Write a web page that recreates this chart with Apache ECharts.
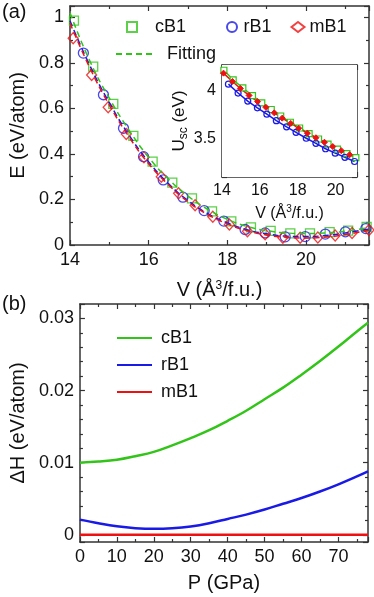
<!DOCTYPE html>
<html>
<head>
<meta charset="utf-8">
<script src="https://cdn.jsdelivr.net/npm/echarts@6/dist/echarts.min.js"></script>
<style>
html, body { margin: 0; padding: 0; background: #fff; }
#main { width: 374px; height: 597px; }
</style>
</head>
<body>
<div id="main"></div>
<script>
// panel (a): energy vs volume
var vC = [14.10, 14.59, 15.10, 15.61, 16.10, 16.60, 17.10, 17.61, 18.10, 18.60, 19.10, 19.60, 20.10, 20.60, 21.07, 21.54];
var eC = [0.986, 0.784, 0.620, 0.479, 0.366, 0.274, 0.205, 0.148, 0.104, 0.077, 0.062, 0.051, 0.051, 0.057, 0.063, 0.079];
var vR = [14.34, 14.85, 15.36, 15.87, 16.37, 16.87, 17.41, 17.91, 18.45, 18.96, 19.47, 19.98, 20.49, 21.00, 21.52];
var eR = [0.843, 0.660, 0.513, 0.388, 0.286, 0.210, 0.151, 0.105, 0.068, 0.053, 0.036, 0.037, 0.048, 0.058, 0.072];
var vM = [14.08, 14.55, 14.97, 15.43, 15.88, 16.32, 16.76, 17.18, 17.63, 18.05, 18.51, 18.96, 19.41, 19.85, 20.30, 20.74, 21.17, 21.60];
var eM = [0.908, 0.747, 0.605, 0.488, 0.385, 0.300, 0.227, 0.175, 0.124, 0.090, 0.060, 0.047, 0.032, 0.032, 0.033, 0.042, 0.053, 0.066];

// fitted curves
var fitV = [14.0, 14.5, 15.0, 15.5, 16.0, 16.5, 17.0, 17.5, 18.0, 18.5, 19.0, 19.5, 20.0, 20.5, 21.0, 21.6];
var fitC = [1.02, 0.81, 0.645, 0.505, 0.385, 0.29, 0.215, 0.157, 0.113, 0.082, 0.063, 0.053, 0.050, 0.053, 0.061, 0.077];
var fitR = [0.985, 0.79, 0.625, 0.483, 0.365, 0.27, 0.195, 0.138, 0.097, 0.067, 0.049, 0.039, 0.037, 0.042, 0.053, 0.070];
var fitM = [0.975, 0.78, 0.615, 0.475, 0.357, 0.265, 0.19, 0.134, 0.093, 0.063, 0.044, 0.034, 0.031, 0.035, 0.046, 0.065];

// inset: Usc vs volume
var uC = [4.215, 4.115, 4.030, 3.950, 3.875, 3.805, 3.737, 3.672, 3.612, 3.553, 3.497, 3.443, 3.392, 3.345, 3.303];
var uR = [4.070, 3.977, 3.893, 3.823, 3.756, 3.688, 3.624, 3.567, 3.505, 3.452, 3.395, 3.349, 3.306, 3.262];
var uM = [4.185, 4.098, 4.025, 3.952, 3.888, 3.828, 3.770, 3.715, 3.660, 3.610, 3.558, 3.510, 3.463, 3.418, 3.375, 3.333, 3.292];

// panel (b): enthalpy difference vs pressure
var pGPa = [0, 5, 10, 15, 20, 25, 30, 35, 40, 45, 50, 55, 60, 65, 70, 75, 78];
var hC = [0.0100, 0.01015, 0.0104, 0.0109, 0.0115, 0.0124, 0.0134, 0.0145, 0.0158, 0.0172, 0.0188, 0.0204, 0.0222, 0.0241, 0.0261, 0.0282, 0.0294];
var hR = [0.0021, 0.0016, 0.00118, 0.00092, 0.00082, 0.0009, 0.00115, 0.0016, 0.0022, 0.0028, 0.0035, 0.0043, 0.0051, 0.0060, 0.0070, 0.0081, 0.0088];
var hM = [0, 0, 0, 0, 0, 0, 0, 0, 0, 0, 0, 0, 0, 0, 0, 0, 0];

var GREEN = '#33c41a', BLUE = '#1a1ae6', RED = '#ee1111';
var FONT = '"Liberation Sans", Arial, sans-serif';
var AX = '#333';

function zip(xs, ys) {
    var out = [];
    for (var i = 0; i < ys.length; i++) out.push([xs[i], ys[i]]);
    return out;
}

function axis(o) {
    var a = {
        type: 'value', gridIndex: o.grid, position: o.pos,
        min: o.min, max: o.max,
        axisLine: { show: true, onZero: false, lineStyle: { color: AX, width: 1.5 } },
        axisTick: { show: true, inside: true, length: 5, lineStyle: { color: AX, width: 1.2 } },
        minorTick: { show: true, splitNumber: o.minor, length: 3, lineStyle: { color: AX, width: 1.2 } },
        splitLine: { show: false },
        axisLabel: {
            show: !!o.label, color: '#111', fontSize: o.fs || 18, fontFamily: FONT, margin: o.margin || 6,
            showMinLabel: o.hideMin ? false : true, showMaxLabel: false
        }
    };
    if (o.interval) a.interval = o.interval;
    if (o.split) a.splitNumber = o.split;
    if (o.name) {
        a.name = o.name;
        a.nameLocation = 'middle';
        a.nameGap = o.gap;
        a.nameTextStyle = {
            color: '#111', fontSize: o.nfs || 20, fontFamily: FONT,
            rich: {
                sup: { fontSize: o.nfs ? 10 : 12, fontFamily: FONT, color: '#111', padding: [0, 0, 9, 0] },
                sub: { fontSize: 12, fontFamily: FONT, color: '#111', padding: [9, 0, 0, 0] }
            }
        };
    }
    return a;
}

var myChart = echarts.init(document.getElementById('main'));

function legendText(padLeft) {
    return { color: '#111', fontSize: 18, fontFamily: FONT, padding: [0, 0, 0, padLeft] };
}
// hides the dot that ECharts puts in the middle of a line legend icon
var noDot = { opacity: 0 };

var option = {
    animation: false,
    backgroundColor: '#fff',
    grid: [
        { left: 70, top: 6, width: 299, height: 239 },
        { left: 222, top: 65, width: 135, height: 112, show: true, backgroundColor: '#fff', borderWidth: 0, z: 5 },
        { left: 70, top: 304, width: 298, height: 238 }
    ],
    xAxis: [
        axis({ grid: 0, pos: 'bottom', min: 14, max: 21.6, interval: 2, minor: 2, label: true, name: 'V (Å{sup|3}/f.u.)', gap: 35 }),
        axis({ grid: 0, pos: 'top', min: 14, max: 21.6, interval: 2, minor: 2 }),
        axis({ grid: 1, pos: 'bottom', min: 14, max: 21.13, interval: 2, minor: 2, label: true, fs: 16, name: 'V (Å{sup|3}/f.u.)', gap: 27, nfs: 16 }),
        axis({ grid: 1, pos: 'top', min: 14, max: 21.13, interval: 2, minor: 2 }),
        axis({ grid: 2, pos: 'bottom', min: 0, max: 78, interval: 10, minor: 2, label: true, name: 'P (GPa)', gap: 31 }),
        axis({ grid: 2, pos: 'top', min: 0, max: 78, interval: 10, minor: 2 })
    ],
    yAxis: [
        axis({ grid: 0, pos: 'left', min: 0, max: 1.05, interval: 0.2, minor: 2, label: true, name: 'E (eV/atom)', gap: 42 }),
        axis({ grid: 0, pos: 'right', min: 0, max: 1.05, interval: 0.2, minor: 2 }),
        axis({ grid: 1, pos: 'left', min: 3.1, max: 4.27, split: 2, minor: 5, label: true, fs: 16, hideMin: true, name: 'U{sub|sc} (eV)', gap: 27, nfs: 17 }),
        axis({ grid: 1, pos: 'right', min: 3.1, max: 4.27, split: 2, minor: 5 }),
        axis({ grid: 2, pos: 'left', min: -0.001, max: 0.032, split: 3, minor: 5, label: true, hideMin: true, name: 'ΔH (eV/atom)', gap: 48 }),
        axis({ grid: 2, pos: 'right', min: -0.001, max: 0.032, split: 3, minor: 5 })
    ],
    legend: [
        { data: ['cB1'], left: 121, top: 13, itemWidth: 10, itemHeight: 10, textStyle: legendText(13) },
        { data: ['rB1', 'mB1'], left: 221, top: 13, itemWidth: 13, itemHeight: 10, itemGap: 19, textStyle: legendText(0) },
        { data: ['Fitting'], left: 110, top: 40, itemWidth: 37, itemHeight: 14, itemStyle: noDot, textStyle: legendText(9) },
        {
            data: ['b:cB1', 'b:rB1', 'b:mB1'], orient: 'vertical', left: 111, top: 324,
            itemWidth: 35, itemHeight: 14, itemGap: 9, itemStyle: noDot, textStyle: legendText(4),
            formatter: function (n) { return n.slice(2); }
        }
    ],
    graphic: [
        { type: 'text', left: 2, top: 2, style: { text: '(a)', fontSize: 20, fontFamily: FONT, fill: '#111' } },
        { type: 'text', left: 2, top: 294, style: { text: '(b)', fontSize: 20, fontFamily: FONT, fill: '#111' } }
    ],
    series: [
        // fitted dashed curves
        { name: 'Fitting', type: 'line', xAxisIndex: 0, yAxisIndex: 0, data: zip(fitV, fitC), smooth: true, symbol: 'none',
          lineStyle: { color: GREEN, width: 1.5, type: [6, 4] }, itemStyle: { color: GREEN } },
        { name: 'fitR', type: 'line', xAxisIndex: 0, yAxisIndex: 0, data: zip(fitV, fitR), smooth: true, symbol: 'none',
          lineStyle: { color: BLUE, width: 1.5, type: [6, 4] } },
        { name: 'fitM', type: 'line', xAxisIndex: 0, yAxisIndex: 0, data: zip(fitV, fitM), smooth: true, symbol: 'none',
          lineStyle: { color: RED, width: 1.5, type: [6, 4] } },
        // calculated points
        { name: 'cB1', type: 'scatter', xAxisIndex: 0, yAxisIndex: 0, data: zip(vC, eC), symbol: 'rect', symbolSize: 9,
          itemStyle: { color: 'transparent', borderColor: GREEN, borderWidth: 1.3 } },
        { name: 'rB1', type: 'scatter', xAxisIndex: 0, yAxisIndex: 0, data: zip(vR, eR), symbol: 'circle', symbolSize: 10,
          itemStyle: { color: 'transparent', borderColor: BLUE, borderWidth: 1.3 } },
        { name: 'mB1', type: 'scatter', xAxisIndex: 0, yAxisIndex: 0, data: zip(vM, eM), symbol: 'diamond', symbolSize: [10, 11],
          itemStyle: { color: 'transparent', borderColor: RED, borderWidth: 1.3 } },
        // inset
        { name: 'iC', type: 'line', xAxisIndex: 2, yAxisIndex: 2, data: zip(vC, uC), symbol: 'rect', symbolSize: 6, z: 6,
          lineStyle: { color: GREEN, width: 1.5 }, itemStyle: { color: '#fff', borderColor: GREEN, borderWidth: 1.2 } },
        { name: 'iR', type: 'line', xAxisIndex: 2, yAxisIndex: 2, data: zip(vR, uR), symbol: 'circle', symbolSize: 6, z: 6,
          lineStyle: { color: BLUE, width: 1.5 }, itemStyle: { color: 'transparent', borderColor: BLUE, borderWidth: 1.2 } },
        { name: 'iM', type: 'line', xAxisIndex: 2, yAxisIndex: 2, data: zip(vM, uM), symbol: 'diamond', symbolSize: 6, z: 6,
          lineStyle: { color: RED, width: 1.5 }, itemStyle: { color: RED, borderColor: RED, borderWidth: 1 } },
        // panel (b)
        { name: 'b:cB1', type: 'line', xAxisIndex: 4, yAxisIndex: 4, data: zip(pGPa, hC), smooth: 0.4, symbol: 'none',
          lineStyle: { color: GREEN, width: 2.5 }, itemStyle: { color: GREEN } },
        { name: 'b:rB1', type: 'line', xAxisIndex: 4, yAxisIndex: 4, data: zip(pGPa, hR), smooth: 0.4, symbol: 'none',
          lineStyle: { color: BLUE, width: 2.5 }, itemStyle: { color: BLUE } },
        { name: 'b:mB1', type: 'line', xAxisIndex: 4, yAxisIndex: 4, data: zip(pGPa, hM), symbol: 'none',
          lineStyle: { color: RED, width: 2.5 }, itemStyle: { color: RED } }
    ]
};

myChart.setOption(option);
</script>
</body>
</html>
